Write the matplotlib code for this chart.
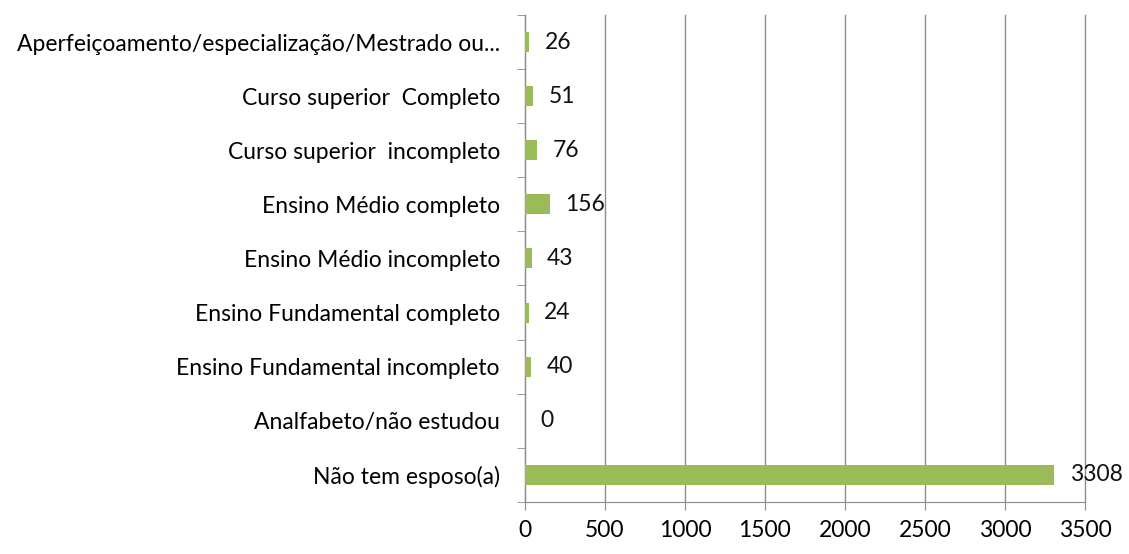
import matplotlib

matplotlib.use('Agg')

import matplotlib.pyplot as plt
import numpy as np

categorias = [
    'Não tem esposo(a)',
    'Analfabeto/não estudou',
    'Ensino Fundamental incompleto',
    'Ensino Fundamental completo',
    'Ensino Médio incompleto',
    'Ensino Médio completo',
    'Curso superior  incompleto',
    'Curso superior  Completo',
    'Aperfeiçoamento/especialização/Mestrado ou...',
]
valores = [3308, 0, 40, 24, 43, 156, 76, 51, 26]
xticks = [0, 500, 1000, 1500, 2000, 2500, 3000, 3500]

plt.rcParams['font.family'] = ['Lato', 'DejaVu Sans']

fig = plt.figure(figsize=(11.29, 5.54), dpi=100)
ax = fig.add_axes([0.465, 0.094, 0.496, 0.879])

y = np.arange(len(categorias))
ax.barh(y, valores, height=0.37, color='#9BBB59', zorder=3)

for yi, v in zip(y, valores):
    ax.annotate(str(v), (v, yi), xytext=(11, 0), textcoords='offset points',
                va='center', ha='left', fontsize=16.5, color='#111111')

ax.set_xlim(0, 3500)
ax.set_ylim(-0.5, len(categorias) - 0.5)
ax.set_xticks(xticks)
ax.set_xticklabels([str(t) for t in xticks], fontsize=16.5)
ax.set_yticks(y)
ax.set_yticklabels(categorias, fontsize=16.5)
ax.set_yticks(np.arange(-0.5, len(categorias), 1), minor=True)

ax.tick_params(axis='y', which='major', length=0, pad=18)
ax.tick_params(axis='y', which='minor', length=6, color='#8c8c8c', direction='out')
ax.tick_params(axis='x', length=6, color='#8c8c8c', direction='out', pad=7)

ax.grid(axis='x', color='#8c8c8c', linewidth=1, zorder=0)
for gl in ax.get_xgridlines():
    gl.set_clip_on(False)
for s in ['top', 'right']:
    ax.spines[s].set_visible(False)
for s in ['left', 'bottom']:
    ax.spines[s].set_color('#8c8c8c')

fig.savefig('out.png', dpi=100)
